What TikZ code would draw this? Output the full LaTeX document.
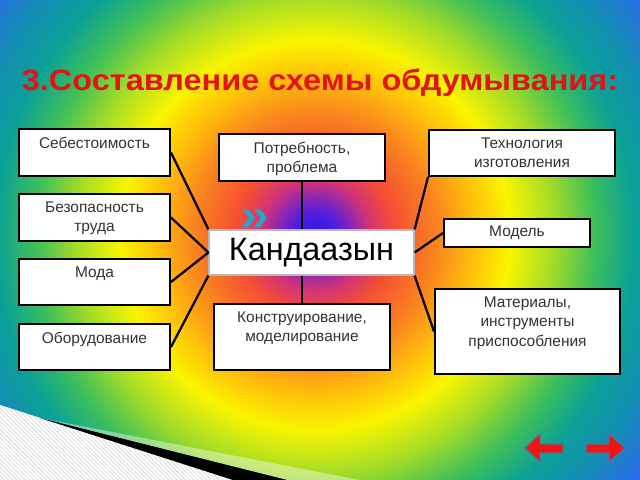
\documentclass[tikz,border=0pt]{standalone}
\usepackage{fontspec}
\setmainfont{Liberation Sans}
\usetikzlibrary{positioning,fit,shadows,patterns}

\definecolor{titlered}{RGB}{228,18,18}
\definecolor{chevblue}{RGB}{40,165,195}
\definecolor{navred}{RGB}{240,20,20}

\pgfdeclareradialshading{rainbow}{\pgfpoint{0bp}{0bp}}{%
  rgb(0bp)=(0.16,0.08,0.92);
  rgb(1.5bp)=(0.35,0.12,0.86);
  rgb(3.25bp)=(0.82,0.2,0.47);
  rgb(4.75bp)=(0.96,0.31,0.2);
  rgb(7.15bp)=(0.98,0.51,0.12);
  rgb(9.5bp)=(1,0.75,0.04);
  rgb(11.6bp)=(0.98,0.96,0);
  rgb(14.3bp)=(0.63,0.86,0.16);
  rgb(16.65bp)=(0.24,0.75,0.35);
  rgb(19bp)=(0.04,0.63,0.59);
  rgb(21.45bp)=(0.08,0.55,0.71);
  rgb(23.8bp)=(0.16,0.43,0.9);
  rgb(25bp)=(0.2,0.4,0.94);
  rgb(50bp)=(0.2,0.4,0.94)}

\tikzset{
  box/.style={draw=black, line width=1.4pt, fill=white, inner sep=0pt,
    drop shadow={shadow xshift=0.8pt, shadow yshift=-0.8pt, opacity=0.45}},
  boxtext/.style={font=\fontsize{11}{13.9}\selectfont, text=black!80,
    align=center, anchor=north, inner sep=0pt, yshift=-6pt},
  midtext/.style={font=\fontsize{11}{13.9}\selectfont, text=black!80,
    anchor=center, inner sep=0pt},
  link/.style={line width=1.6pt, black},
  navarrow/.style={fill=navred, draw={rgb,255:red,90;green,110;blue,150}, line width=0.8pt},
}

\begin{document}
\begin{tikzpicture}[x=0.025cm, y=-0.025cm]
  \useasboundingbox (0,0) rectangle (640,480);
  \clip (0,0) rectangle (640,480);
  \fill[shading=rainbow] (315,235) circle [radius=10.5cm];

  % corner decoration
  \fill[white] (0,405) -- (233,480) -- (0,480) -- cycle;
  \fill[pattern=north west lines, pattern color=gray!35] (0,405) -- (233,480) -- (0,480) -- cycle;
  \fill[white, opacity=0.4] (40,418) -- (360,480) -- (287,480) -- cycle;
  \fill[black] (40,418) -- (287,480) -- (233,480) -- cycle;

  \node[font=\bfseries\fontsize{21}{24}\selectfont, text=titlered] (title) at (320,83)
    {\scalebox{1.1}[1]{3.Составление схемы обдумывания:}};

  % boxes
  \node[box, fit={(19,129) (170,176)}, label={[boxtext]north:Себестоимость}] (seb) {};
  \node[box, fit={(19,194) (170,241)}, label={[boxtext]north:Безопасность\\труда}] (bez) {};
  \node[box, fit={(19,259) (170,305)}, label={[boxtext]north:Мода}] (moda) {};
  \node[box, fit={(19,324) (170,370)}, label={[boxtext]north:Оборудование}] (obor) {};
  \node[box, fit={(219,134) (385,181)}, label={[boxtext]north:Потребность,\\проблема}] (potr) {};
  \node[box, draw=gray!55, line width=0.8pt, fit={(209,230) (414,275)},
    label={[midtext, text=black, font=\fontsize{23}{26}\selectfont]center:Кандаазын}] (kand) {};
  \node[box, fit={(214,304) (390,370)}, label={[boxtext]north:Конструирование,\\моделирование}] (konstr) {};
  \node[box, fit={(429,130) (615,176)}, label={[boxtext]north:Технология\\изготовления}] (tech) {};
  \node[box, fit={(444,219) (590,247)}, label={[midtext]center:Модель}] (model) {};
  \node[box, fit={(435,289) (620,374)}, label={[boxtext]north:Материалы,\\инструменты\\приспособления}] (mat) {};

  % links
  \draw[link] (seb.east) -- (kand.north west);
  \draw[link] (bez.east) -- (kand.west);
  \draw[link] (moda.east) -- (kand.west);
  \draw[link] (obor.east) -- (kand.south west);
  \draw[link] (potr.south) -- (potr.south |- kand.north);
  \draw[link] (konstr.north |- kand.south) -- (konstr.north);
  \draw[link] (tech.south west) -- (kand.north east);
  \draw[link] (model.west) -- (kand.east);
  \draw[link] (kand.south east) -- (mat.west);

  % chevrons
  \foreach \cx in {242,254}
    \fill[chevblue] (\cx,209) -- ++(6,0) -- ++(7,9) -- ++(-7,9) -- ++(-6,0) -- ++(7,-9) -- cycle;

  % navigation arrows
  \path[navarrow] (525,448) -- (540,434) -- (540,444) -- (563,444) -- (563,453) -- (540,453) -- (540,462) -- cycle;
  \path[navarrow] (625,448) -- (609,434) -- (609,444) -- (586,444) -- (586,453) -- (609,453) -- (609,462) -- cycle;
\end{tikzpicture}
\end{document}
